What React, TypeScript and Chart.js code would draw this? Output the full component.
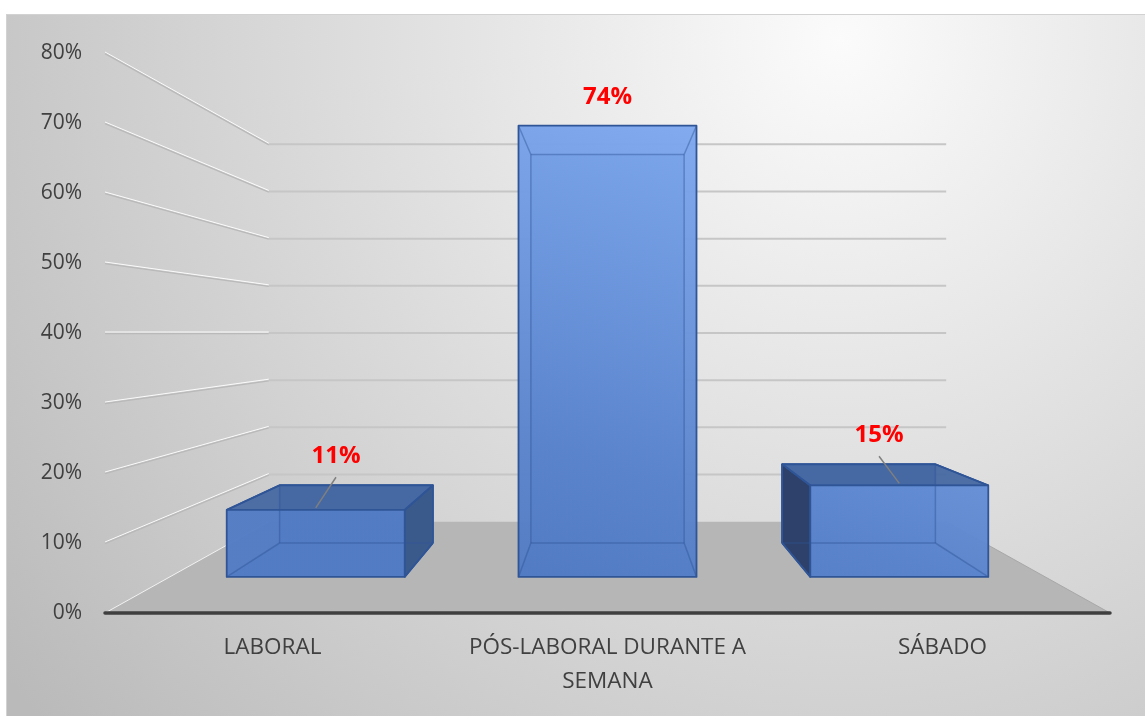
import React, { useEffect, useRef } from 'react';
import { Chart, registerables } from 'chart.js';

Chart.register(...registerables);

// ---- data ----
const categories: (string | string[])[] = ['LABORAL', ['PÓS-LABORAL DURANTE A', 'SEMANA'], 'SÁBADO'];
const values = [0.11, 0.74, 0.15];
const valueLabels = ['11%', '74%', '15%'];
const yTickValues = [0, 0.1, 0.2, 0.3, 0.4, 0.5, 0.6, 0.7, 0.8];
const yTickLabels = ['0%', '10%', '20%', '30%', '40%', '50%', '60%', '70%', '80%'];

// ---- perspective style constants ----
const K_WALL = 0.674;
const K_FRONT = 0.871;
const K_BACK = 0.75;
const FONT = '"Open Sans", sans-serif';

const threeD = {
  id: 'threeD',
  beforeDraw(chart: any) {
    const ctx = chart.ctx;
    ctx.save();
    const g = ctx.createRadialGradient(840, 40, 0, 840, 40, 1050);
    g.addColorStop(0, '#fbfbfb');
    g.addColorStop(1, '#bababa');
    ctx.fillStyle = g;
    ctx.fillRect(6, 14, 1145 - 6, 716 - 14);
    ctx.strokeStyle = '#d2d2d2';
    ctx.lineWidth = 1;
    ctx.strokeRect(6.5, 14.5, 1145, 716);
    ctx.restore();
  },
  beforeDatasetsDraw(chart: any) {
    const { ctx, chartArea: a, scales } = chart;
    const y = scales.y;
    const vx = (a.left + a.right) / 2;
    const vy = y.getPixelForValue(0.4);
    const P = (px: number, py: number, k: number) => [vx + (px - vx) * k, vy + (py - vy) * k];
    ctx.save();
    // back wall + side wall gridlines
    yTickValues.slice(1).forEach((v) => {
      const py = y.getPixelForValue(v);
      const [bx1, by] = P(a.left, py, K_WALL);
      const [bx2] = P(a.right, py, K_WALL);
      ctx.lineWidth = 1;
      ctx.strokeStyle = 'rgba(255,255,255,0.9)';
      ctx.beginPath();
      ctx.moveTo(a.left, py - 1);
      ctx.lineTo(bx1, by - 1);
      ctx.stroke();
      ctx.lineWidth = 1.3;
      ctx.strokeStyle = '#b9b9b9';
      ctx.beginPath();
      ctx.moveTo(a.left, py + 0.6);
      ctx.lineTo(bx1, by + 0.6);
      ctx.stroke();
      ctx.lineWidth = 2;
      ctx.strokeStyle = '#c6c6c6';
      ctx.beginPath();
      ctx.moveTo(bx1, by);
      ctx.lineTo(bx2, by);
      ctx.stroke();
    });
    // floor
    const y0 = y.getPixelForValue(0);
    const [fl, fb] = P(a.left, y0, K_WALL);
    const [fr] = P(a.right, y0, K_WALL);
    ctx.fillStyle = '#b6b6b6';
    ctx.beginPath();
    ctx.moveTo(a.left, y0);
    ctx.lineTo(a.right, y0);
    ctx.lineTo(fr, fb);
    ctx.lineTo(fl, fb);
    ctx.closePath();
    ctx.fill();
    ctx.strokeStyle = '#f2f2f2';
    ctx.lineWidth = 1;
    ctx.beginPath();
    ctx.moveTo(a.left, y0);
    ctx.lineTo(fl, fb);
    ctx.stroke();
    ctx.strokeStyle = '#a8a8a8';
    ctx.beginPath();
    ctx.moveTo(a.right, y0);
    ctx.lineTo(fr, fb);
    ctx.stroke();
    // front axis line
    ctx.strokeStyle = '#3f3f3f';
    ctx.lineWidth = 3.5;
    ctx.lineCap = 'round';
    ctx.beginPath();
    ctx.moveTo(a.left, y0);
    ctx.lineTo(a.right, y0);
    ctx.stroke();
    ctx.restore();
  },
  afterDatasetsDraw(chart: any) {
    const { ctx, chartArea: a, scales } = chart;
    const y = scales.y;
    const vx = (a.left + a.right) / 2;
    const vy = y.getPixelForValue(0.4);
    const P = (px: number, py: number, k: number) => [vx + (px - vx) * k, vy + (py - vy) * k];
    const meta = chart.getDatasetMeta(0);
    ctx.save();
    const poly = (pts: number[][], fill: any, stroke = '#2f5597', lw = 1.5) => {
      ctx.beginPath();
      ctx.moveTo(pts[0][0], pts[0][1]);
      for (let i = 1; i < pts.length; i++) ctx.lineTo(pts[i][0], pts[i][1]);
      ctx.closePath();
      ctx.fillStyle = fill;
      ctx.fill();
      if (stroke) {
        ctx.strokeStyle = stroke;
        ctx.lineWidth = lw;
        ctx.lineJoin = 'round';
        ctx.stroke();
      }
    };
    const seg = (p: number[], q: number[]) => {
      ctx.beginPath();
      ctx.moveTo(p[0], p[1]);
      ctx.lineTo(q[0], q[1]);
      ctx.stroke();
    };
    const grad = ctx.createLinearGradient(vx + 110, 120, vx - 40, 580);
    grad.addColorStop(0, 'rgba(128,170,240,0.97)');
    grad.addColorStop(0.75, 'rgba(90,132,204,0.97)');
    grad.addColorStop(1, 'rgba(82,124,196,0.97)');

    meta.data.forEach((bar: any, i: number) => {
      const { x: cx, y: top, base, width } = bar.getProps(['x', 'y', 'base', 'width'], true);
      const l = cx - width / 2;
      const r = cx + width / 2;
      const F = (px: number, py: number) => P(px, py, K_FRONT);
      const B = (px: number, py: number) => P(px, py, K_BACK);
      const ftl = F(l, top), ftr = F(r, top), fbr = F(r, base), fbl = F(l, base);
      const btl = B(l, top), btr = B(r, top), bbr = B(r, base), bbl = B(l, base);
      // back and bottom
      poly([btl, btr, bbr, bbl], 'rgba(72,108,172,0.92)', '', 0);
      poly([fbl, fbr, bbr, bbl], 'rgba(76,112,178,0.92)', '', 0);
      // sides
      if (l > vx) poly([ftl, btl, bbl, fbl], 'rgba(44,62,102,0.95)');
      if (r < vx) poly([ftr, btr, bbr, fbr], 'rgba(58,88,138,0.95)');
      // top
      if (ftl[1] > vy) poly([ftl, ftr, btr, btl], 'rgba(70,103,162,0.95)');
      // front
      poly([ftl, ftr, fbr, fbl], grad, '', 0);
      // hidden edges seen through the glassy front
      ctx.strokeStyle = 'rgba(47,85,151,0.45)';
      ctx.lineWidth = 1.5;
      seg(btl, btr); seg(btr, bbr); seg(bbr, bbl); seg(bbl, btl);
      seg(ftl, btl); seg(ftr, btr); seg(fbr, bbr); seg(fbl, bbl);
      // visible outline
      ctx.strokeStyle = '#2f5597';
      ctx.lineWidth = 1.8;
      ctx.lineJoin = 'round';
      ctx.beginPath();
      ctx.moveTo(ftl[0], ftl[1]);
      ctx.lineTo(ftr[0], ftr[1]);
      ctx.lineTo(fbr[0], fbr[1]);
      ctx.lineTo(fbl[0], fbl[1]);
      ctx.closePath();
      ctx.stroke();
      if (ftl[1] > vy) {
        ctx.beginPath();
        ctx.moveTo(ftl[0], ftl[1]);
        ctx.lineTo(btl[0], btl[1]);
        ctx.lineTo(btr[0], btr[1]);
        ctx.lineTo(ftr[0], ftr[1]);
        ctx.stroke();
      }
      if (l > vx) { seg(btl, bbl); seg(bbl, fbl); }
      if (r < vx) { seg(btr, bbr); seg(bbr, fbr); }

      // data label
      const minTop = Math.min(ftl[1], btl[1]);
      const ftcx = (ftl[0] + ftr[0]) / 2;
      const btcx = (btl[0] + btr[0]) / 2;
      const lx = (ftcx + btcx) / 2;
      const ly = minTop - 29;
      if (ftl[1] - ly > 40) {
        ctx.strokeStyle = '#7f7f7f';
        ctx.lineWidth = 1.5;
        ctx.beginPath();
        ctx.moveTo(lx, ly + 21);
        ctx.lineTo(ftcx, ftl[1] - 2);
        ctx.stroke();
      }
      ctx.fillStyle = '#ff0000';
      ctx.font = `bold 24px ${FONT}`;
      ctx.textAlign = 'center';
      ctx.textBaseline = 'middle';
      ctx.fillText(valueLabels[i], lx, ly);
    });
    ctx.restore();
  },
};

export default function App() {
  const ref = useRef<HTMLCanvasElement | null>(null);
  useEffect(() => {
    if (!ref.current) return;
    const chart = new Chart(ref.current, {
      type: 'bar',
      data: {
        labels: categories as any,
        datasets: [
          {
            data: values,
            backgroundColor: 'rgba(0,0,0,0)',
            borderWidth: 0,
            categoryPercentage: 1,
            barPercentage: 0.61,
          },
        ],
      },
      options: {
        responsive: false,
        animation: false,
        devicePixelRatio: 1,
        layout: { padding: { top: 53, right: 35, left: 0, bottom: 0 } },
        plugins: { legend: { display: false }, tooltip: { enabled: false } },
        scales: {
          x: {
            grid: { display: false, drawTicks: false },
            border: { display: false },
            ticks: {
              color: '#404040',
              font: { family: FONT, size: 22.5, lineHeight: 1.5 },
              padding: 18,
              maxRotation: 0,
              autoSkip: false,
            },
            afterFit: (s: any) => {
              s.height = 103;
            },
          },
          y: {
            min: 0,
            max: 0.8,
            grid: { display: false, drawTicks: false },
            border: { display: false },
            ticks: {
              stepSize: 0.1,
              color: '#404040',
              font: { family: FONT, size: 21 },
              padding: 23,
              callback: (_v: any, i: number) => yTickLabels[i],
            },
            afterFit: (s: any) => {
              s.width = 105;
            },
          },
        },
      },
      plugins: [threeD],
    });
    return () => chart.destroy();
  }, []);
  return (
    <div style={{ position: 'fixed', left: 0, top: 0, width: 1145, height: 716 }}>
      <canvas ref={ref} width={1145} height={716} style={{ display: 'block' }} />
    </div>
  );
}
